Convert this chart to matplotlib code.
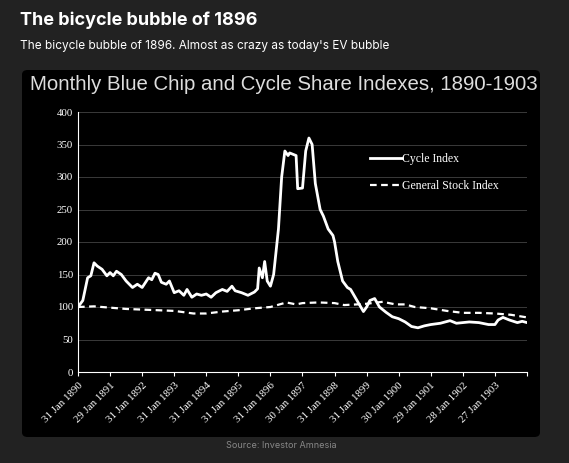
import matplotlib.pyplot as plt
from matplotlib.patches import FancyBboxPatch

# cycle index (year fraction, value)
cyc_t = [1890.0, 1890.15, 1890.3, 1890.4, 1890.5, 1890.6, 1890.75, 1890.9, 1891.0, 1891.1, 1891.2, 1891.35,
         1891.5, 1891.7, 1891.85, 1892.0, 1892.2, 1892.3, 1892.4, 1892.5, 1892.6, 1892.75, 1892.85, 1893.0,
         1893.15, 1893.3, 1893.4, 1893.55, 1893.7, 1893.85, 1894.0, 1894.15, 1894.3, 1894.5, 1894.65, 1894.8,
         1894.9, 1895.1, 1895.3, 1895.5, 1895.6, 1895.65, 1895.75, 1895.82, 1895.9, 1896.0, 1896.1, 1896.25,
         1896.35, 1896.45, 1896.55, 1896.6, 1896.8, 1896.85, 1897.0, 1897.1, 1897.2, 1897.3, 1897.4, 1897.55,
         1897.65, 1897.8, 1897.95, 1898.0, 1898.1, 1898.25, 1898.4, 1898.5, 1898.7, 1898.9, 1899.0, 1899.1,
         1899.25, 1899.4, 1899.6, 1899.8, 1900.0, 1900.2, 1900.4, 1900.6, 1900.8, 1901.0, 1901.3, 1901.6,
         1901.8, 1902.0, 1902.2, 1902.5, 1902.8, 1903.0, 1903.1, 1903.25, 1903.45, 1903.7, 1903.85, 1904.0]
cyc_v = [100, 110, 145, 148, 168, 163, 158, 148, 153, 148, 155, 150,
         140, 130, 135, 130, 145, 142, 152, 150, 138, 135, 140, 122,
         125, 118, 127, 115, 120, 118, 120, 115, 122, 127, 124, 132,
         125, 122, 118, 123, 128, 160, 145, 170, 140, 132, 150, 220,
         300, 340, 333, 337, 333, 282, 283, 340, 360, 350, 290, 250,
         240, 220, 210, 200, 170, 140, 130, 127, 110, 93, 100, 110,
         113, 100, 92, 85, 82, 77, 70, 68, 71, 73, 75, 79,
         75, 76, 77, 76, 73, 73, 80, 84, 80, 76, 78, 76]

gen_t = [1890, 1890.5, 1891, 1891.5, 1892, 1892.5, 1893, 1893.6, 1894, 1894.5, 1895, 1895.5, 1896,
         1896.5, 1896.8, 1897, 1897.5, 1898, 1898.3, 1898.7, 1899, 1899.5, 1899.9, 1900.2, 1900.5,
         1901, 1901.5, 1902, 1902.5, 1903, 1903.5, 1904]
gen_v = [100, 101, 99, 97, 96, 95, 94, 90, 90, 93, 95, 98, 100,
         107, 104, 106, 107, 106, 103, 104, 105, 108, 104, 104, 100,
         98, 94, 91, 91, 90, 88, 84]

tick_labels = ['31 Jan 1890', '29 Jan 1891', '31 Jan 1892', '31 Jan 1893', '31 Jan 1894', '31 Jan 1895',
               '31 Jan 1896', '30 Jan 1897', '31 Jan 1898', '31 Jan 1899', '30 Jan 1900', '29 Jan 1901',
               '28 Jan 1902', '27 Jan 1903']

W, H = 569, 463
fig = plt.figure(figsize=(W / 100, H / 100), dpi=100, facecolor='#222222')

fig.text(20 / W, 1 - 20 / H, 'The bicycle bubble of 1896', color='white', fontsize=13,
         fontweight='bold', va='center', family='Inter')
fig.text(20 / W, 1 - 46 / H, "The bicycle bubble of 1896. Almost as crazy as today's EV bubble",
         color='white', fontsize=8.5, va='center', family='Inter')
fig.patches.append(FancyBboxPatch((22 / W, 1 - 437 / H), 518 / W, 367 / H, boxstyle='round,pad=0,rounding_size=0.01',
                                  transform=fig.transFigure, facecolor='black', edgecolor='none', zorder=-1))
fig.text(284 / W, 1 - 85 / H, 'Monthly Blue Chip and Cycle Share Indexes, 1890-1903', color='#dddddd',
         fontsize=14.7, ha='center', va='center', family='Liberation Sans')
fig.text(281 / W, 1 - 446 / H, 'Source: Investor Amnesia', color='#888888', fontsize=6.5,
         ha='center', va='center', family='Inter')

ax = fig.add_axes([78 / W, 1 - 372 / H, 449 / W, 260 / H])
ax.set_facecolor('black')
ax.plot(cyc_t, cyc_v, color='white', lw=2, label='Cycle Index')
ax.plot(gen_t, gen_v, color='white', lw=1.6, ls=(0, (3, 2)), label='General Stock Index')
ax.set_xlim(1890, 1904)
ax.set_ylim(0, 400)
ax.set_yticks(range(0, 401, 50))
ax.set_xticks(range(1890, 1905))
ax.set_xticklabels(tick_labels + [''], rotation=45, ha='right', rotation_mode='anchor')
ax.grid(axis='y', color='#3a3a3a', lw=0.7)
ax.set_axisbelow(True)
for s in ['top', 'right']:
    ax.spines[s].set_visible(False)
for s in ['left', 'bottom']:
    ax.spines[s].set_color('white')
ax.tick_params(colors='white', labelsize=7.8, length=3)
ax.tick_params(axis='y', length=0)
for lab in ax.get_xticklabels() + ax.get_yticklabels():
    lab.set_family('Liberation Serif')
leg = ax.legend(loc='upper left', bbox_to_anchor=(0.64, 0.86), frameon=False, handlelength=2.7,
                handletextpad=0, labelspacing=1.3, borderaxespad=0,
                prop={'family': 'Liberation Serif', 'size': 8.5})
for t in leg.get_texts():
    t.set_color('white')

fig.savefig('out.png', dpi=100, facecolor=fig.get_facecolor())
